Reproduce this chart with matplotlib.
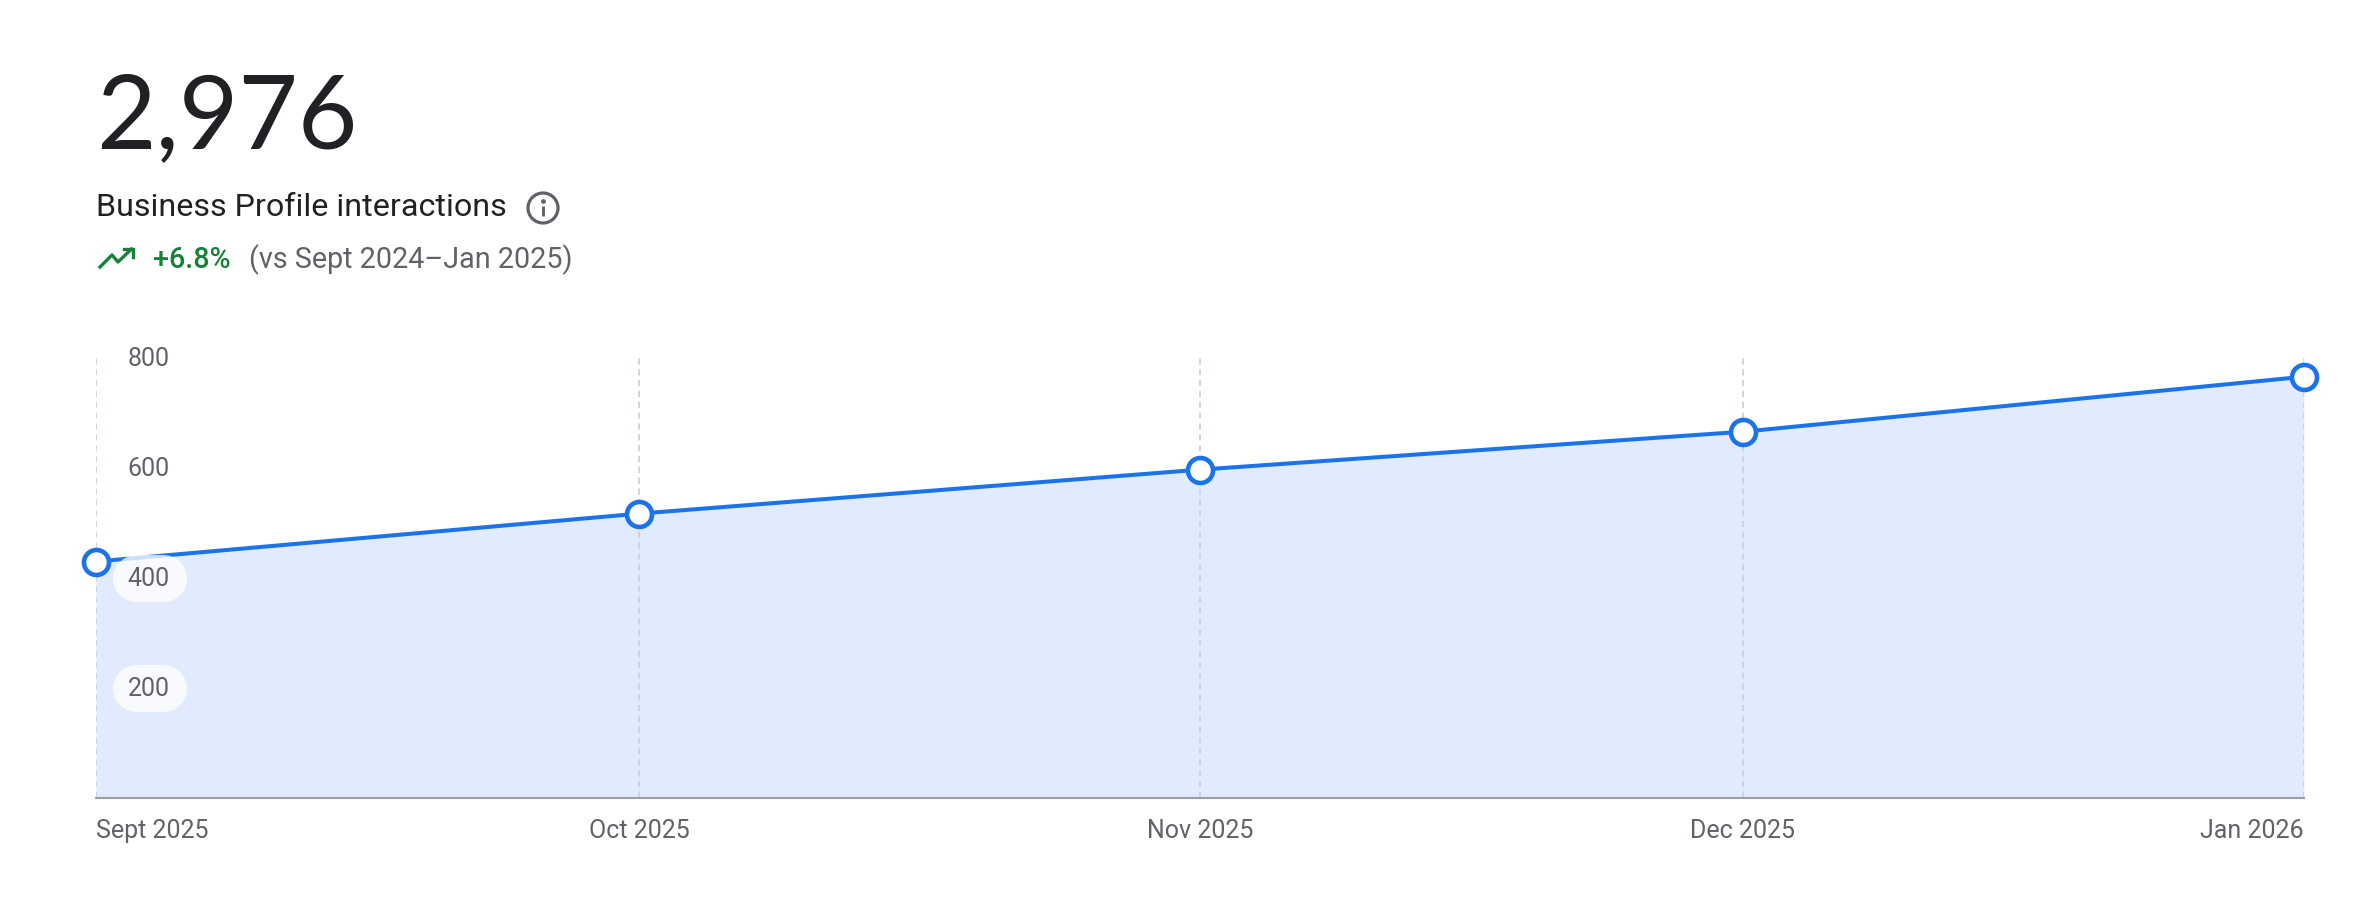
import matplotlib
matplotlib.use("Agg")
import matplotlib.pyplot as plt
import matplotlib.dates as mdates
import pandas as pd
from matplotlib.patches import Circle

# Datos del gráfico
months = ["2025-09-01", "2025-10-01", "2025-11-01", "2025-12-01", "2026-01-01"]
interactions = [430, 517, 597, 666, 766]
month_labels = ["Sept 2025", "Oct 2025", "Nov 2025", "Dec 2025", "Jan 2026"]
y_ticks = [200, 400, 600, 800]

W, H = 2372, 910
LEFT, RIGHT, TOP, BOTTOM = 96, 2304, 358, 798
BLUE = "#1a73e8"
GREY = "#5f6368"
GREEN = "#188038"

plt.rcParams["font.family"] = ["Roboto", "DejaVu Sans"]
fig = plt.figure(figsize=(W / 100, H / 100), dpi=100)

# Área del gráfico
dates = pd.to_datetime(months)
ax = fig.add_axes([LEFT / W, 1 - BOTTOM / H, (RIGHT - LEFT) / W, (BOTTOM - TOP) / H])
ax.patch.set_visible(False)
ax.fill_between(dates, interactions, 0, color="#e2ebfd", lw=0, zorder=0.4)
ax.plot(dates, interactions, color=BLUE, lw=2.9, zorder=3, clip_on=False,
        marker="o", ms=18, mew=3.3, mfc="white", mec=BLUE)
ax.set_xlim(dates[0], dates[-1])
ax.set_ylim(0, 800)
ax.set_yticks([])
ax.set_xticks(mdates.date2num(dates))
ax.set_xticklabels(month_labels, fontsize=18, color=GREY)
ax.tick_params(axis="x", length=0, pad=15)
labels = ax.get_xticklabels()
labels[0].set_ha("left")
labels[-1].set_ha("right")
ax.grid(axis="x", color="#cbd1dd", lw=1.3, ls=(0, (3.5, 2.5)))
ax.set_axisbelow(True)
for side in ["top", "left", "right"]:
    ax.spines[side].set_visible(False)
ax.spines["bottom"].set_color("#9aa0a6")
ax.spines["bottom"].set_linewidth(1.5)

# Capa en píxeles para textos e iconos
top = fig.add_axes([0, 0, 1, 1])
top.set_xlim(0, W)
top.set_ylim(H, 0)
top.axis("off")

for v in y_ticks:
    y = BOTTOM - v * (BOTTOM - TOP) / 800
    # pastilla detrás de la etiqueta
    top.plot([135.5, 162.5], [y, y], color="white", alpha=0.78, lw=33.8, solid_capstyle="round")
    top.text(148.5, y + 8.5, str(v), fontsize=18, color=GREY, ha="center", va="baseline")

top.text(96, 148, "2,976", fontsize=74, color="#202124", family="Lato", weight=400,
         va="baseline")
top.text(96, 216, "Business Profile interactions", fontsize=23.2, color="#202124", va="baseline")
top.text(153, 268, "+6.8%", fontsize=20.6, color=GREEN, weight="medium", va="baseline")
top.text(249, 268, "(vs Sept 2024–Jan 2025)", fontsize=20.7, color=GREY, va="baseline")

# Icono de información
top.add_patch(Circle((543, 208), 15, fc="none", ec=GREY, lw=2.3))
top.plot([543, 543], [206, 216], color=GREY, lw=2.1, solid_capstyle="butt")
top.plot([543], [201], "o", color=GREY, ms=2.4)

# Icono de tendencia
top.plot([100, 112, 118, 131.5], [267, 255, 262, 249], color=GREEN, lw=2.4)
top.plot([123.5, 132.5, 132.5], [248.5, 248.5, 257], color=GREEN, lw=2.4, solid_joinstyle="miter")

fig.savefig("out.png", dpi=100)
